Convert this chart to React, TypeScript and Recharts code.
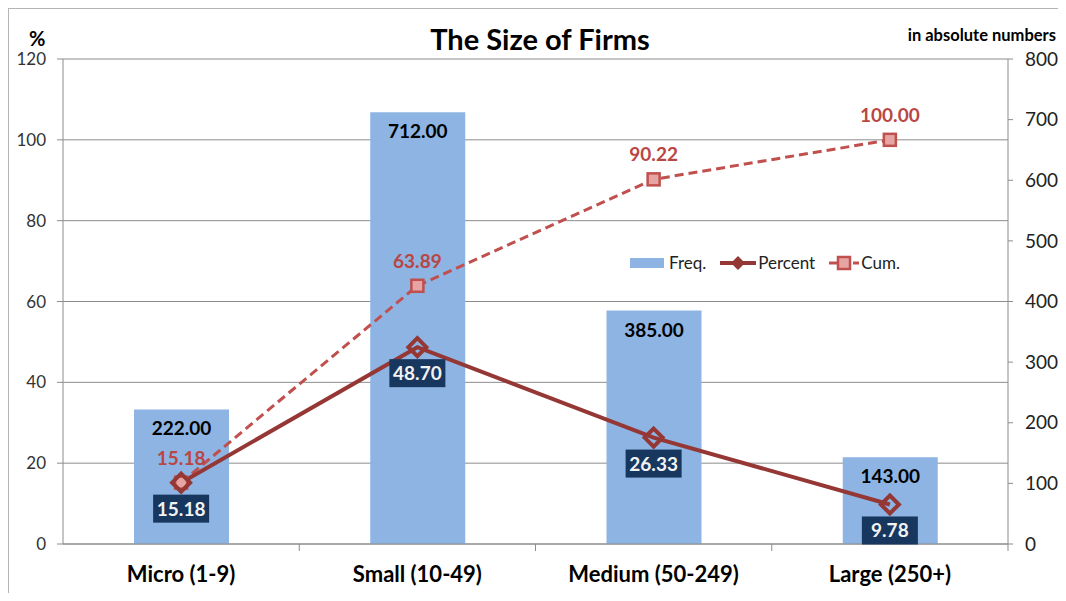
import {
  ComposedChart,
  Bar,
  Line,
  XAxis,
  YAxis,
  CartesianGrid,
  LabelList,
} from "recharts";

const categories = ["Micro (1-9)", "Small (10-49)", "Medium (50-249)", "Large (250+)"];
const freq = [222, 712, 385, 143];
const percent = [15.18, 48.7, 26.33, 9.78];
const cumulative = [15.18, 63.89, 90.22, 100.0];
const percentTicks = [0, 20, 40, 60, 80, 100, 120];
const absoluteTicks = [0, 100, 200, 300, 400, 500, 600, 700, 800];

const data = categories.map((name, i) => ({
  name,
  freq: freq[i],
  percent: percent[i],
  cum: cumulative[i],
}));

const FONT = "Lato, 'Open Sans', sans-serif";
const BAR_BLUE = "#8DB4E2";
const DARK_RED = "#953735";
const RED = "#C0504D";
const NAVY = "#17375E";
const AXIS_GRAY = "#8c8c8c";

const CategoryTick = (props: any) => {
  const { x, y, payload, index, visibleTicksCount } = props;
  const half = payload.offset || 0;
  const isLast = index === (visibleTicksCount ?? categories.length) - 1;
  return (
    <g>
      {index > 0 && (
        <line x1={x - half} x2={x - half} y1={y} y2={y + 7} stroke={AXIS_GRAY} />
      )}
      {isLast && (
        <line x1={x + half} x2={x + half} y1={y} y2={y + 7} stroke={AXIS_GRAY} />
      )}
      <text
        x={x}
        y={y + 38}
        textAnchor="middle"
        fontFamily={FONT}
        fontWeight={700}
        fontSize={22}
        fill="#000"
      >
        {payload.value}
      </text>
    </g>
  );
};

const FreqLabel = (props: any) => {
  const { x, y, width, value } = props;
  return (
    <text
      x={x + width / 2}
      y={y + 26}
      textAnchor="middle"
      fontFamily={FONT}
      fontWeight={700}
      fontSize={19}
      fill="#000"
    >
      {Number(value).toFixed(2)}
    </text>
  );
};

const PercentLabel = (props: any) => {
  const { x, y, value } = props;
  const w = 56;
  const h = 28;
  return (
    <g>
      <rect x={x - w / 2} y={y + 12} width={w} height={h} fill={NAVY} />
      <text
        x={x}
        y={y + 33}
        textAnchor="middle"
        fontFamily={FONT}
        fontWeight={700}
        fontSize={19}
        fill="#F2F2F2"
      >
        {Number(value).toFixed(2)}
      </text>
    </g>
  );
};

const CumLabel = (props: any) => {
  const { x, y, value } = props;
  return (
    <text
      x={x}
      y={y - 18}
      textAnchor="middle"
      fontFamily={FONT}
      fontWeight={700}
      fontSize={19}
      fill="#BA4643"
    >
      {Number(value).toFixed(2)}
    </text>
  );
};

const Diamond = (props: any) => {
  const { cx, cy, index } = props;
  const r = 9;
  return (
    <path
      key={`d-${index}`}
      d={`M${cx},${cy - r}L${cx + r},${cy}L${cx},${cy + r}L${cx - r},${cy}Z`}
      fill="none"
      stroke={DARK_RED}
      strokeWidth={4}
    />
  );
};

const Square = (props: any) => {
  const { cx, cy, index } = props;
  const s = 12;
  return (
    <rect
      key={`s-${index}`}
      x={cx - s / 2}
      y={cy - s / 2}
      width={s}
      height={s}
      fill="#E6A5A3"
      stroke={RED}
      strokeWidth={2.5}
    />
  );
};

const ChartLegend = () => (
  <div
    style={{
      position: "absolute",
      left: 621,
      top: 243,
      display: "flex",
      alignItems: "center",
      fontFamily: FONT,
      fontSize: 17,
      color: "#222",
      whiteSpace: "nowrap",
    }}
  >
    <svg width={34} height={12} style={{ marginRight: 5 }}>
      <rect x={0} y={1} width={34} height={10} fill={BAR_BLUE} />
    </svg>
    <span style={{ marginRight: 14 }}>Freq.</span>
    <svg width={36} height={16} style={{ marginRight: 2 }}>
      <line x1={0} x2={36} y1={8} y2={8} stroke={DARK_RED} strokeWidth={4} />
      <path d="M18,1L25,8L18,15L11,8Z" fill={DARK_RED} />
    </svg>
    <span style={{ marginRight: 14 }}>Percent</span>
    <svg width={30} height={16} style={{ marginRight: 2 }}>
      <line x1={0} x2={30} y1={8} y2={8} stroke={RED} strokeWidth={3} strokeDasharray="8 4" />
      <rect x={9} y={2} width={12} height={12} fill="#E6A5A3" stroke={RED} strokeWidth={2.5} />
    </svg>
    <span>Cum.</span>
  </div>
);

export default function App() {
  return (
    <div
      style={{
        position: "relative",
        width: 1050,
        height: 585,
        borderTop: "1px solid #b5b5b5",
        borderLeft: "1px solid #b5b5b5",
        boxSizing: "border-box",
        overflow: "hidden",
        background: "#fff",
      }}
    >
      <div
        style={{
          position: "absolute",
          left: 0,
          width: 1062,
          top: 12,
          textAlign: "center",
          fontFamily: FONT,
          fontWeight: 700,
          fontSize: 29,
          color: "#000",
        }}
      >
        The Size of Firms
      </div>
      <div
        style={{
          position: "absolute",
          left: 20,
          top: 17,
          fontFamily: FONT,
          fontWeight: 700,
          fontSize: 20,
          color: "#000",
        }}
      >
        %
      </div>
      <div
        style={{
          position: "absolute",
          left: 888,
          width: 159,
          top: 16,
          textAlign: "right",
          whiteSpace: "nowrap",
          fontFamily: FONT,
          fontWeight: 700,
          fontSize: 16.5,
          color: "#000",
        }}
      >
        in absolute numbers
      </div>
      <ComposedChart
        width={1049}
        height={584}
        data={data}
        margin={{ top: 50, right: 0, bottom: 0, left: 0 }}
        style={{ position: "absolute", left: 0, top: 0 }}
      >
        <CartesianGrid vertical={false} stroke={AXIS_GRAY} yAxisId="pct" />
        <XAxis
          dataKey="name"
          height={49}
          tickSize={0}
          tickMargin={0}
          tickLine={false}
          axisLine={{ stroke: AXIS_GRAY }}
          tick={<CategoryTick />}
          interval={0}
        />
        <YAxis
          yAxisId="pct"
          orientation="left"
          width={54}
          domain={[0, 120]}
          ticks={percentTicks}
          tickSize={6}
          tickMargin={11}
          axisLine={{ stroke: AXIS_GRAY }}
          tickLine={{ stroke: AXIS_GRAY }}
          tick={{ fontFamily: FONT, fontSize: 17, fill: "#333" }}
          interval={0}
        />
        <YAxis
          yAxisId="abs"
          orientation="right"
          width={50}
          domain={[0, 800]}
          ticks={absoluteTicks}
          tickSize={5}
          tickMargin={12}
          axisLine={{ stroke: AXIS_GRAY }}
          tickLine={{ stroke: AXIS_GRAY }}
          tick={{ fontFamily: FONT, fontSize: 19, fill: "#222" }}
          interval={0}
        />
        <Bar
          yAxisId="abs"
          dataKey="freq"
          name="Freq."
          fill={BAR_BLUE}
          barSize={95}
          isAnimationActive={false}
        >
          <LabelList dataKey="freq" content={<FreqLabel />} />
        </Bar>
        <Line
          yAxisId="pct"
          dataKey="cum"
          name="Cum."
          stroke={RED}
          strokeWidth={3}
          strokeDasharray="9 5"
          dot={<Square />}
          activeDot={false}
          isAnimationActive={false}
        >
          <LabelList dataKey="cum" content={<CumLabel />} />
        </Line>
        <Line
          yAxisId="pct"
          dataKey="percent"
          name="Percent"
          stroke={DARK_RED}
          strokeWidth={4}
          dot={<Diamond />}
          activeDot={false}
          isAnimationActive={false}
        >
          <LabelList dataKey="percent" content={<PercentLabel />} />
        </Line>
      </ComposedChart>
      <ChartLegend />
    </div>
  );
}
